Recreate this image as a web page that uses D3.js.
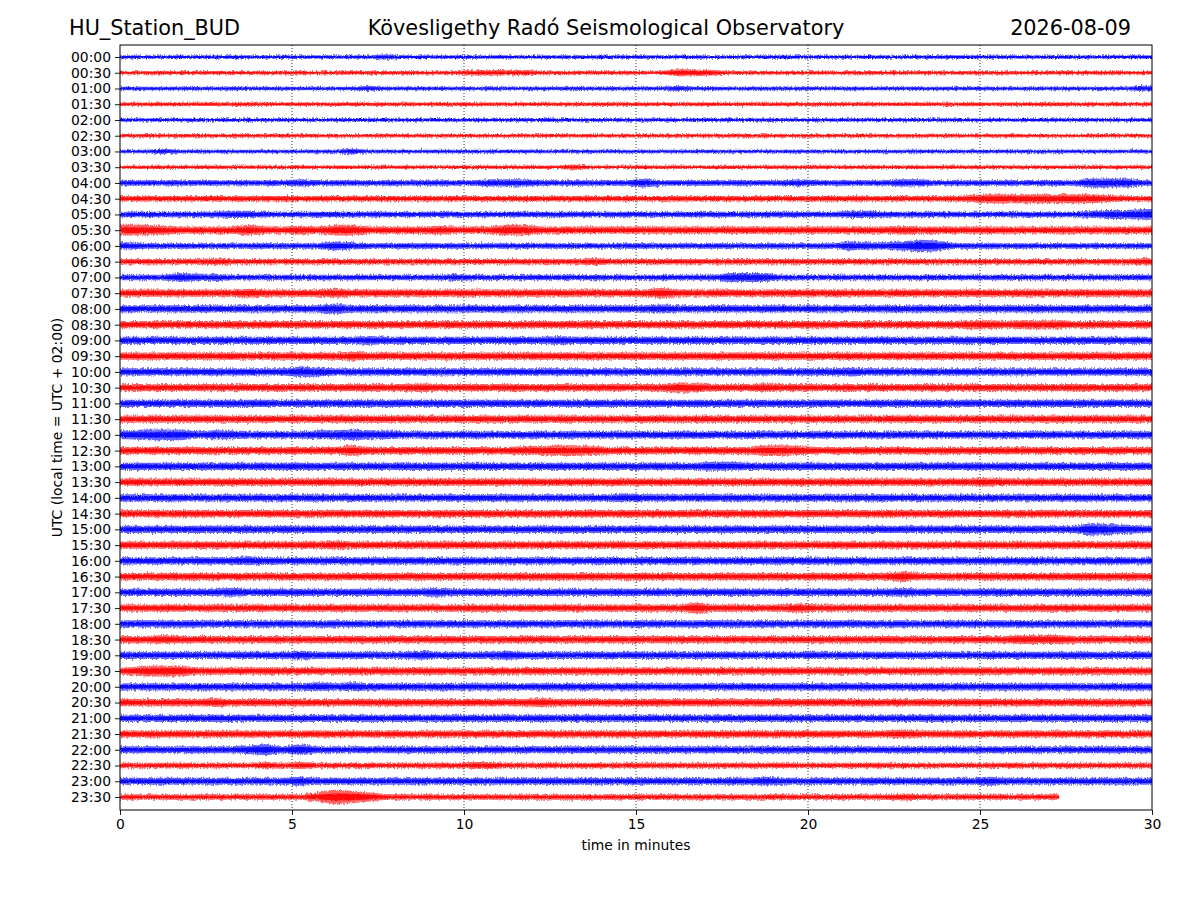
<!DOCTYPE html>
<html><head><meta charset="utf-8">
<script src="https://cdn.jsdelivr.net/npm/d3@7"></script>
<style>body{margin:0;background:#fff} text{font-family:"DejaVu Sans",sans-serif}</style>
</head><body><svg id="c" width="1200" height="900"></svg>
<script>
const rowLabels = ["00:00","00:30","01:00","01:30","02:00","02:30","03:00","03:30","04:00","04:30","05:00","05:30",
"06:00","06:30","07:00","07:30","08:00","08:30","09:00","09:30","10:00","10:30","11:00","11:30",
"12:00","12:30","13:00","13:30","14:00","14:30","15:00","15:30","16:00","16:30","17:00","17:30",
"18:00","18:30","19:00","19:30","20:00","20:30","21:00","21:30","22:00","22:30","23:00","23:30"];
const xTickValues = [0,5,10,15,20,25,30];
const traceColors = ["#0000ff","#ff0000"];
const lastTraceEnd = 27.3;
const titleLeft = "HU_Station_BUD";
const titleCenter = "Kövesligethy Radó Seismological Observatory";
const titleRight = "2026-08-09";
const xLabel = "time in minutes";
const yLabel = "UTC (local time = UTC + 02:00)";
// half-amplitude envelope per half-minute bin (px)
const envelopes = [
"2222222222 2222232222 2222222222 2222222222 2222222222 2222222222",
"2222222222 2222222222 3333222222 2244322222 2222222222 2222222222",
"2222222222 2222322222 2222222222 2232222222 2222222222 2222222223",
"2222222222 2222222222 2222222222 2222222222 2222222222 2222222222",
"2222222222 2222222222 2222222222 2222222222 2222222222 2222222222",
"2222222222 2222222222 2222222222 2222222222 2222222222 2222222222",
"2232222222 2223222222 2222222222 2222222222 2222222222 2222222222",
"2222222222 2222222222 2222223222 2222222222 2222222222 2222222222",
"3333333333 4333333333 3444333333 5333333334 3333344333 3333335553",
"3333333333 3333333333 3333333333 3333333333 3333333334 5555555433",
"3333334433 3333333333 3333333333 3333333333 3344333333 3333334556",
"6654444644 5466444454 4466444444 4444444444 4444454444 4444444444",
"4333333333 3354333333 3333333333 3333333333 3354457633 3333333333",
"3333343333 3333333333 3333333433 3333333333 3333333333 3333333334",
"3335443333 3333333334 3333333333 3333355533 3333333333 3333333333",
"4444444544 4454444444 4444444444 4644444444 4444444444 4444444444",
"4444444444 4464444444 4444444444 4544444444 4444444444 4444444444",
"4444444444 4444444444 4444444444 4444444444 4444444445 5455544444",
"4444444444 4444544444 4444454444 4444444444 4444444444 4444444444",
"4444444444 4445444444 4444444444 4444444444 4444444444 4444444444",
"4444444444 6544444444 4444444444 4444444444 4454444444 4444444444",
"4444444444 4444444544 4444444444 4465444544 4444444444 4444444444",
"4444444444 4444444444 4444444444 4444444444 4444444444 4444444444",
"4444444444 4444444444 4444444444 4444444444 4444444444 4444444444",
"5666455444 4556554444 4444444444 4444444444 4444444444 4444444444",
"4444444444 4446444444 4445566544 4444444665 4444444444 4444444444",
"4444444444 4444444444 4444444444 4444554444 4444444444 4444444444",
"4444444444 4444444444 4444444444 4444444444 4444444444 5444444444",
"4444444444 4444444444 4444444445 4444444444 4444444444 4444444444",
"4444444444 4444444444 4444444444 4444444444 4444444444 4444444444",
"4444444444 4444444444 4444444444 4444444444 4444444444 4444447654",
"4444444444 4454444444 4444444444 4444444444 4444444444 4444444444",
"4444444544 4444444444 4444444444 4444444444 4444444444 4444444444",
"4444444444 4444444444 4444444444 4444444444 4444464444 4444444444",
"4444445444 4444444454 4444444444 4444444444 4444454444 4444444444",
"4444444444 4444444444 4444444444 4446444445 4444444444 4444444444",
"4444444444 4444444444 4444444444 4444444444 4444444444 4444444444",
"4454444444 4444444444 4444444444 4444444444 4444444444 4455544444",
"4444444444 5444444544 4454444444 4444444444 4444444444 4444444444",
"4666444444 4444444444 4444444444 4444444444 4444444444 4444444444",
"4444444444 4545444444 4444444444 4444444444 4444444444 4444444444",
"4444454444 4444444444 4444544444 4444444444 4444444444 4444444444",
"4444444444 4444444444 4444444444 4444444444 4444444444 4444444444",
"4444444444 4444444444 4444444444 4444444444 4444454444 4444444444",
"4444444564 6444444444 4444444444 4444444444 4444444444 4444444444",
"3333333343 4333333333 4433333333 3333333333 3333333333 3333333333",
"4444444444 5444444444 4444444444 4444444544 4444444444 5444444444",
"3333333333 3587533333 3333333333 3333333333 3333343333 33333"
];

const svg = d3.select("#c");
const M = {left:120, right:1152, top:45, bottom:810};
const x = d3.scaleLinear().domain([0,30]).range([M.left, M.right]);
const y = d3.scaleLinear().domain([0,47]).range([57,797]);
const amp = d3.scaleLinear().domain([0,1]).range([0,0.9]);

// texture filters for the fuzzy look of each trace
const defs = svg.append("defs");
function fuzz(id, freq, seed, scale){
  const f = defs.append("filter").attr("id",id).attr("filterUnits","userSpaceOnUse")
    .attr("x",0).attr("y",0).attr("width",1200).attr("height",900);
  f.append("feTurbulence").attr("type","fractalNoise").attr("baseFrequency",freq)
    .attr("numOctaves",1).attr("seed",seed).attr("result","noise");
  f.append("feDisplacementMap").attr("in","SourceGraphic").attr("in2","noise")
    .attr("scale",scale).attr("xChannelSelector","R").attr("yChannelSelector","G");
}
fuzz("fuzz","1.8 0.3",11,5);
fuzz("fuzz2","1.4 0.5",4,3);
defs.append("clipPath").attr("id","plotclip").append("rect")
  .attr("x",M.left).attr("y",M.top).attr("width",M.right-M.left).attr("height",M.bottom-M.top);

// dotted vertical grid
svg.append("g").selectAll("line").data(xTickValues.slice(1,-1)).join("line")
  .attr("x1",d=>x(d)).attr("x2",d=>x(d)).attr("y1",M.top).attr("y2",M.bottom)
  .attr("stroke","#000").attr("stroke-width",0.8).attr("stroke-dasharray","1,2");

// traces
const clipG = svg.append("g").attr("clip-path","url(#plotclip)");
const outerG = clipG.append("g").attr("filter","url(#fuzz)");
const innerG = clipG.append("g").attr("filter","url(#fuzz2)");
envelopes.forEach((s,i)=>{
  const vals = s.replace(/ /g,"").split("").map(Number);
  const end = i === envelopes.length-1 ? lastTraceEnd : 30;
  const pts = [{t:0,a:vals[0]}];
  vals.forEach((v,j)=>{ const t=(j+0.5)/2; if(t<end) pts.push({t,a:v}); });
  pts.push({t:end,a:vals[vals.length-1]});
  const cy = y(i);
  const col = traceColors[i%2];
  const outer = d3.area().x(d=>x(d.t)).y0(d=>cy+amp(d.a)).y1(d=>cy-amp(d.a)).curve(d3.curveLinear);
  const inner = d3.area().x(d=>x(d.t)).y0(d=>cy+amp(d.a)*0.5).y1(d=>cy-amp(d.a)*0.5).curve(d3.curveLinear);
  outerG.append("path").attr("d",outer(pts)).attr("fill",col).attr("fill-opacity",0.6);
  innerG.append("path").attr("d",inner(pts)).attr("fill",col).attr("fill-opacity",0.9);
});

// axes
const xAxis = svg.append("g").attr("transform",`translate(0,${M.bottom})`)
  .call(d3.axisBottom(x).tickValues(xTickValues).tickFormat(d3.format("d")).tickSize(5).tickPadding(4));
const yAxis = svg.append("g").attr("transform",`translate(${M.left},0)`)
  .call(d3.axisLeft(y).tickValues(d3.range(rowLabels.length)).tickFormat(i=>rowLabels[i]).tickSize(5).tickPadding(4));
[xAxis,yAxis].forEach(g=>{
  g.select(".domain").remove();
  g.selectAll("line").attr("stroke","#000").attr("stroke-width",0.9);
  g.selectAll("text").attr("font-size","13.9px").attr("fill","#000").attr("font-family","DejaVu Sans");
});

// frame
svg.append("rect").attr("x",M.left).attr("y",M.top).attr("width",M.right-M.left).attr("height",M.bottom-M.top)
  .attr("fill","none").attr("stroke","#000").attr("stroke-width",1);

// titles
svg.append("text").attr("x",69).attr("y",35).attr("font-size","20.8px").text(titleLeft);
svg.append("text").attr("x",606).attr("y",35).attr("text-anchor","middle").attr("font-size","20.8px").text(titleCenter);
svg.append("text").attr("x",1131).attr("y",35).attr("text-anchor","end").attr("font-size","20.8px").text(titleRight);
svg.append("text").attr("x",(M.left+M.right)/2).attr("y",850).attr("text-anchor","middle").attr("font-size","13.9px").text(xLabel);
svg.append("text").attr("transform",`translate(62,${(M.top+M.bottom)/2}) rotate(-90)`).attr("text-anchor","middle").attr("font-size","13.9px").text(yLabel);
</script></body></html>
